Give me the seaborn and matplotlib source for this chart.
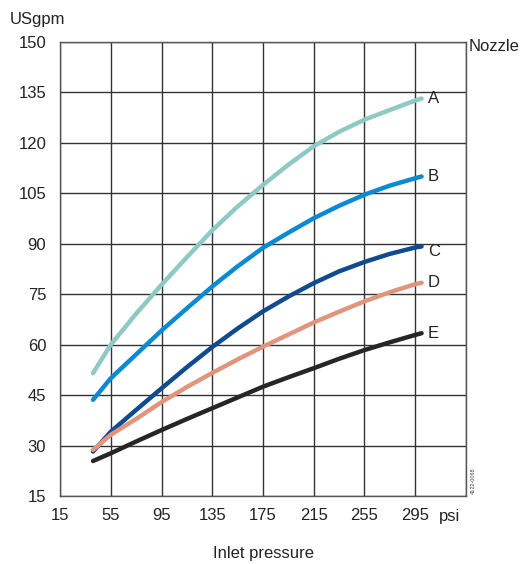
import pandas as pd
import matplotlib.pyplot as plt
import matplotlib.transforms as mtransforms
import seaborn as sns

# pressão (psi) e vazão (USgpm)
pressure = [41, 55, 75, 95, 115, 135, 155, 175, 195, 215, 235, 255, 275, 295, 300]
flow_a = [51.5, 60.0, 69.2, 77.8, 86.0, 94.0, 101.1, 107.5, 113.5, 119.0, 123.3, 126.9, 129.8, 132.6, 133.2]
flow_b = [43.6, 50.0, 57.1, 64.2, 70.8, 77.3, 83.3, 88.8, 93.3, 97.6, 101.3, 104.6, 107.3, 109.5, 110.0]
flow_c = [28.2, 34.1, 40.6, 47.0, 53.3, 59.3, 64.8, 69.9, 74.3, 78.3, 81.8, 84.6, 87.0, 88.9, 89.2]
flow_d = [28.7, 33.2, 37.9, 42.9, 47.4, 51.6, 55.6, 59.4, 63.0, 66.6, 69.8, 72.9, 75.6, 78.0, 78.4]
flow_e = [25.4, 27.7, 31.2, 34.6, 37.9, 41.1, 44.3, 47.5, 50.3, 53.0, 55.8, 58.4, 60.7, 62.9, 63.4]
nozzles = ['A', 'B', 'C', 'D', 'E']
x_ticks = [15, 55, 95, 135, 175, 215, 255, 295]
y_ticks = [15, 30, 45, 60, 75, 90, 105, 120, 135, 150]

series = {'A': flow_a, 'B': flow_b, 'C': flow_c, 'D': flow_d, 'E': flow_e}
rows = []
for nz in nozzles:
    for p, q in zip(pressure, series[nz]):
        rows.append({'pressure': p, 'flow': q, 'nozzle': nz})
df = pd.DataFrame(rows)

colors = {'A': '#8ec9c4', 'B': '#0a8ad2', 'C': '#0f4b8e', 'D': '#e0957c', 'E': '#262626'}

sns.set_style('white')
plt.rcParams['font.family'] = ['Liberation Sans', 'DejaVu Sans']

fig = plt.figure(figsize=(5.21, 5.64), dpi=100)
ax = fig.add_axes([0.1152, 0.1206, 0.7792, 0.8049])

sns.lineplot(data=df, x='pressure', y='flow', hue='nozzle', palette=colors,
             linewidth=3.2, legend=False, ax=ax, solid_capstyle='round')

ax.set_xlim(15, 335)
ax.set_ylim(15, 150)
ax.set_xticks(x_ticks + [335])
ax.set_xticklabels([str(t) for t in x_ticks] + [''])
ax.set_yticks(y_ticks)
ax.set_yticklabels([str(t) for t in y_ticks])
ax.grid(True, color='#333333', linewidth=1.0)
ax.set_axisbelow(True)
for s in ax.spines.values():
    s.set_color('#555555')
    s.set_linewidth(1.0)
ax.tick_params(axis='both', length=0, labelsize=12, colors='#222222')
ax.tick_params(axis='x', pad=9)
ax.tick_params(axis='y', pad=10)
ax.set_xlabel('')
ax.set_ylabel('')

offs = {'A': 0, 'B': 0, 'C': -1.5, 'D': 0, 'E': 0}
for nz in nozzles:
    ax.text(305, series[nz][-1] + offs[nz], nz, fontsize=12, color='#222222',
            va='center', ha='left')

trans = mtransforms.blended_transform_factory(ax.transData, ax.transAxes)
ax.text(322, -0.046, 'psi', fontsize=12, color='#222222', ha='center', va='center',
        transform=trans)
fig.text(0.018, 0.965, 'USgpm', fontsize=12, color='#222222', ha='left', va='center')
fig.text(0.900, 0.917, 'Nozzle', fontsize=12, color='#222222', ha='left', va='center')
fig.text(0.505, 0.018, 'Inlet pressure', fontsize=12, color='#222222', ha='center', va='center')
fig.text(0.909, 0.148, '4122-0068', fontsize=4, color='#444444', rotation=90,
         ha='center', va='center')

fig.savefig('out.png', dpi=100)
